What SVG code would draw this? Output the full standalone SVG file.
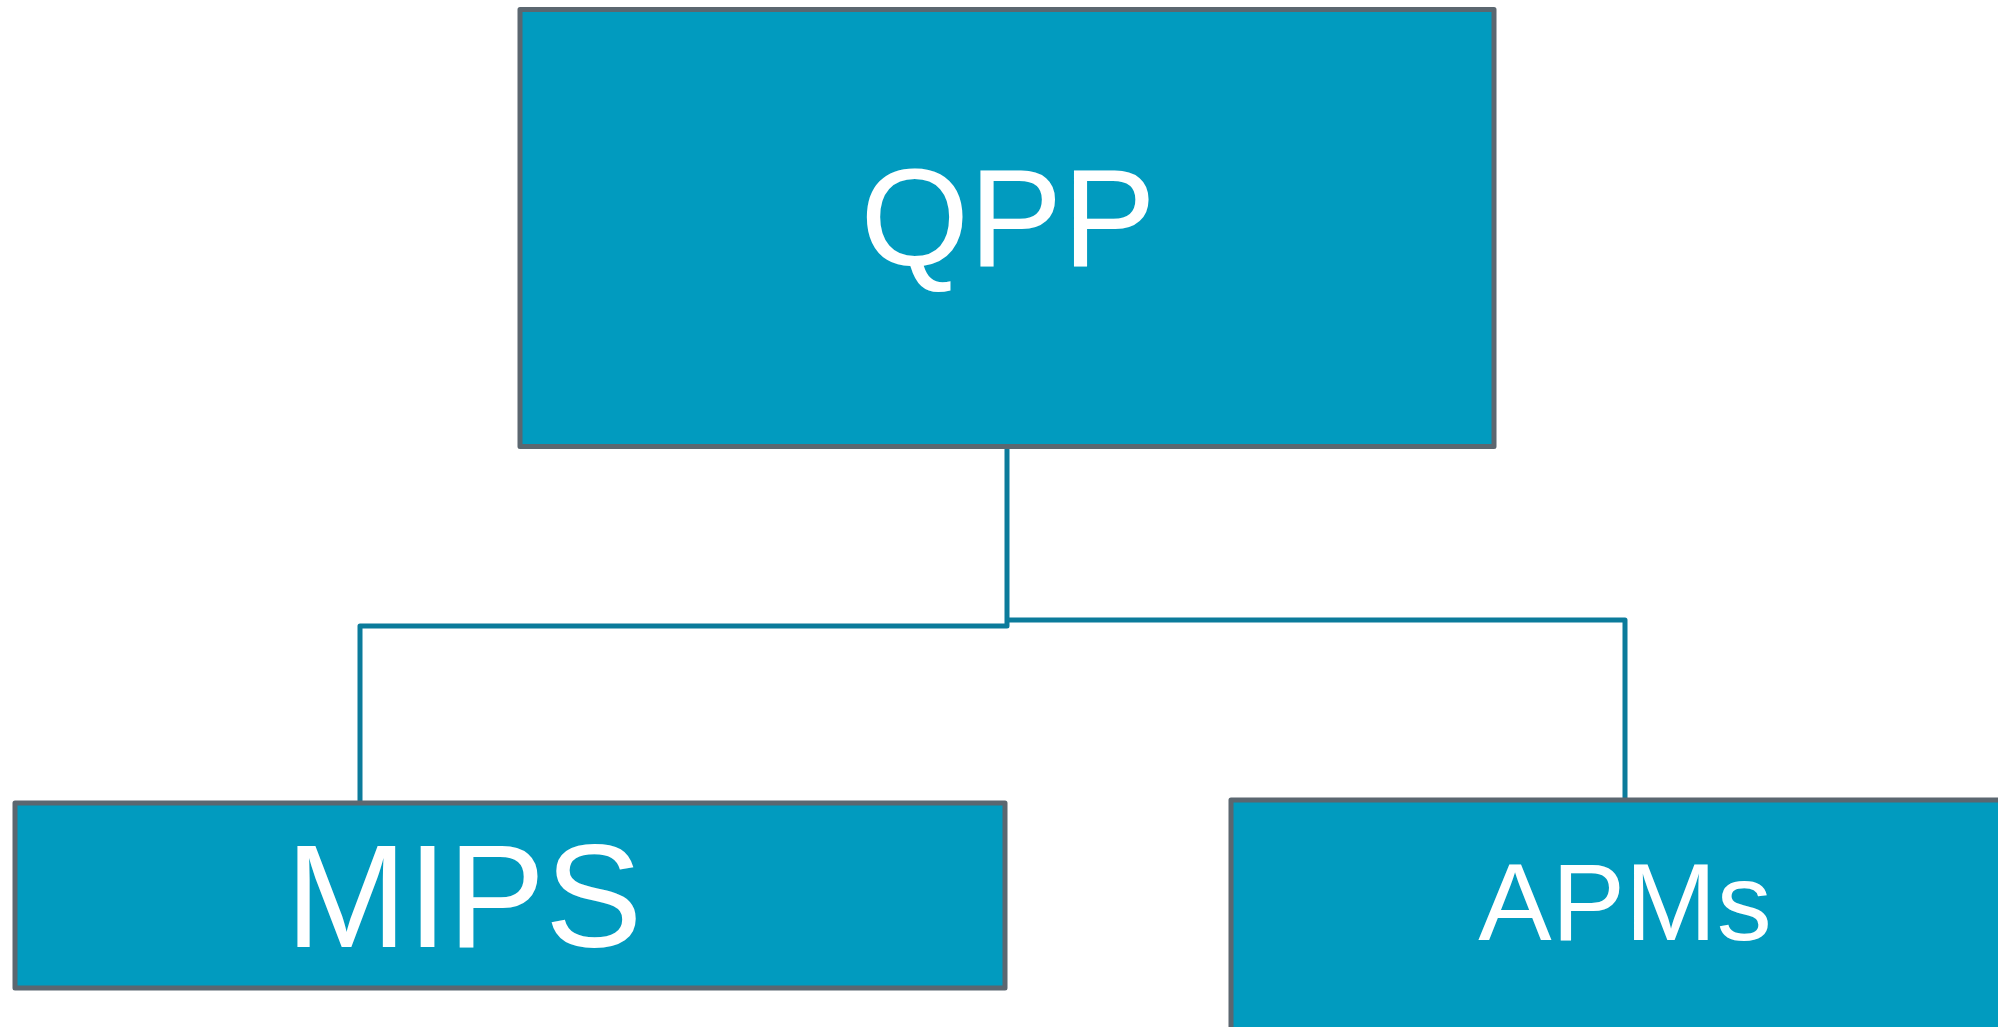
<svg xmlns="http://www.w3.org/2000/svg" width="1998" height="1027" viewBox="0 0 1998 1027">
  <style>
    .box { fill: #019bbf; stroke: #5b6770; stroke-width: 5; stroke-linejoin: round; }
    .label { fill: #ffffff; font-family: "Liberation Sans", Arial, sans-serif; text-anchor: middle; }
    .link { fill: none; stroke: #0b7b9b; stroke-width: 5; stroke-linejoin: round; }
  </style>
  <rect width="1998" height="1027" fill="#ffffff"/>
  <!-- elbow links from the top box down to the two child boxes -->
  <g id="connectors">
    <path class="link" d="M1007 446.5 V626 H360 V803"/>
    <path class="link" d="M1007 620 H1625 V800"/>
  </g>
  <g id="qpp">
    <rect class="box" x="520" y="9.5" width="974" height="437"/>
    <text class="label" x="1008" y="266" font-size="140">QPP</text>
  </g>
  <g id="mips">
    <rect class="box" x="15" y="803" width="990" height="185"/>
    <text class="label" x="464" y="947" font-size="146">MIPS</text>
  </g>
  <g id="apms">
    <!-- runs off the right and bottom edges of the canvas -->
    <rect class="box" x="1231" y="800" width="800" height="300"/>
    <text class="label" x="1625" y="940" font-size="110">APMs</text>
  </g>
</svg>
